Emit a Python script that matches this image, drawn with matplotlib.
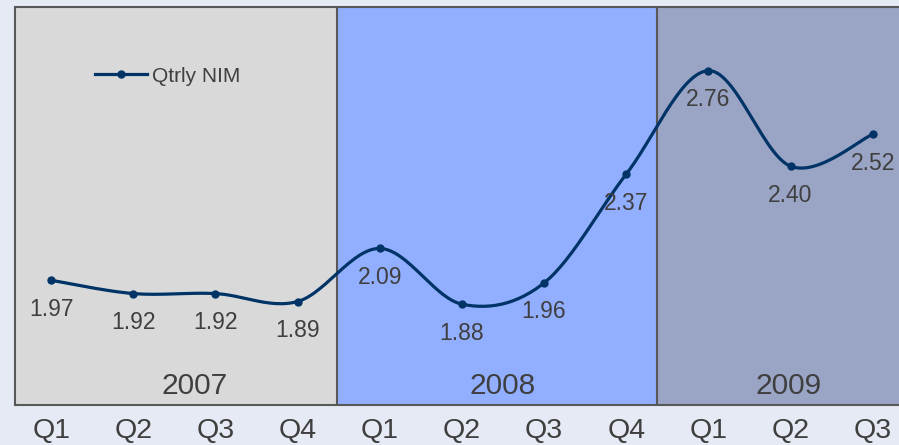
import numpy as np
import matplotlib
matplotlib.use('Agg')
import matplotlib.pyplot as plt
import matplotlib.transforms as mtransforms

plt.rcParams['font.family'] = ['Liberation Sans', 'DejaVu Sans']

# data
years = ['2007', '2008', '2009']
quarters = ['Q1', 'Q2', 'Q3', 'Q4', 'Q1', 'Q2', 'Q3', 'Q4', 'Q1', 'Q2', 'Q3']
nim = [1.97, 1.92, 1.92, 1.89, 2.09, 1.88, 1.96, 2.37, 2.76, 2.40, 2.52]
year_spans = [(-0.44, 3.48), (3.48, 7.37), (7.37, 11.27)]
year_label_x = [1.75, 5.49, 8.98]
year_colors = ['#d9d9d9', '#91aeff', '#9aa4c5']

txt = '#3f3f3f'
line_c = '#003366'
edge = '#585858'


def smooth(x, y, n=30):
    # excel-like smoothed line (catmull-rom through the points)
    x = np.asarray(x, float)
    y = np.asarray(y, float)
    px = np.concatenate([[x[0]], x, [x[-1]]])
    py = np.concatenate([[y[0]], y, [y[-1]]])
    xs, ys = [], []
    t = np.linspace(0, 1, n)
    for i in range(1, len(px) - 2):
        p0 = np.array([px[i], py[i]])
        p3 = np.array([px[i + 1], py[i + 1]])
        p1 = p0 + (p3 - np.array([px[i - 1], py[i - 1]])) / 6
        p2 = p3 - (np.array([px[i + 2], py[i + 2]]) - p0) / 6
        b = ((1 - t) ** 3)[:, None] * p0 + (3 * (1 - t) ** 2 * t)[:, None] * p1 \
            + (3 * (1 - t) * t ** 2)[:, None] * p2 + (t ** 3)[:, None] * p3
        xs.extend(b[:, 0])
        ys.extend(b[:, 1])
    return np.array(xs), np.array(ys)


fig = plt.figure(figsize=(8.99, 4.45), dpi=100)
fig.patch.set_facecolor('#e6eaf4')
# axes runs past the right edge of the picture, like the original
ax = fig.add_axes([15 / 899, 40 / 445, 962 / 899, 398 / 445])

x = np.arange(len(nim))
for (a, b), c in zip(year_spans, year_colors):
    ax.axvspan(a, b, color=c, zorder=0, lw=0)
for a, b in year_spans[1:]:
    ax.axvline(a, color=edge, lw=1.5, zorder=1)
for xl, yr in zip(year_label_x, years):
    ax.text(xl, 1.57, yr, ha='center', va='center', fontsize=21.5, color=txt)

sx, sy = smooth(x, nim)
ax.plot(sx, sy, color=line_c, lw=2.3, zorder=3, solid_capstyle='round')
ax.plot(x, nim, 'o', color=line_c, ms=5, zorder=4)
ax.plot([], [], '-o', color=line_c, lw=2.3, ms=5, label='Qtrly NIM')

for xi, v in zip(x, nim):
    ax.annotate('%.2f' % v, (xi, v), xytext=(0, -29 * 0.72), textcoords='offset points',
                ha='center', va='center', fontsize=16.5, color=txt)

trans = mtransforms.blended_transform_factory(ax.transData, ax.transAxes)
for xi, q in zip(x, quarters):
    ax.text(xi, -0.066, q, transform=trans, ha='center', va='center',
            fontsize=20.5, color=txt, clip_on=False)

ax.set_xlim(-0.44, 11.27)
ax.set_ylim(1.5, 3.0)
ax.set_xticks([])
ax.set_yticks([])
for s in ax.spines.values():
    s.set_color(edge)
    s.set_linewidth(1.5)

ax.legend(loc='center left', bbox_to_anchor=(95 / 899, 1 - 76 / 445),
          bbox_transform=fig.transFigure, frameon=False, fontsize=15,
          handlelength=2.5, handletextpad=0.25, borderpad=0, borderaxespad=0,
          labelcolor=txt)

fig.savefig('out.png', dpi=100, facecolor=fig.get_facecolor())
